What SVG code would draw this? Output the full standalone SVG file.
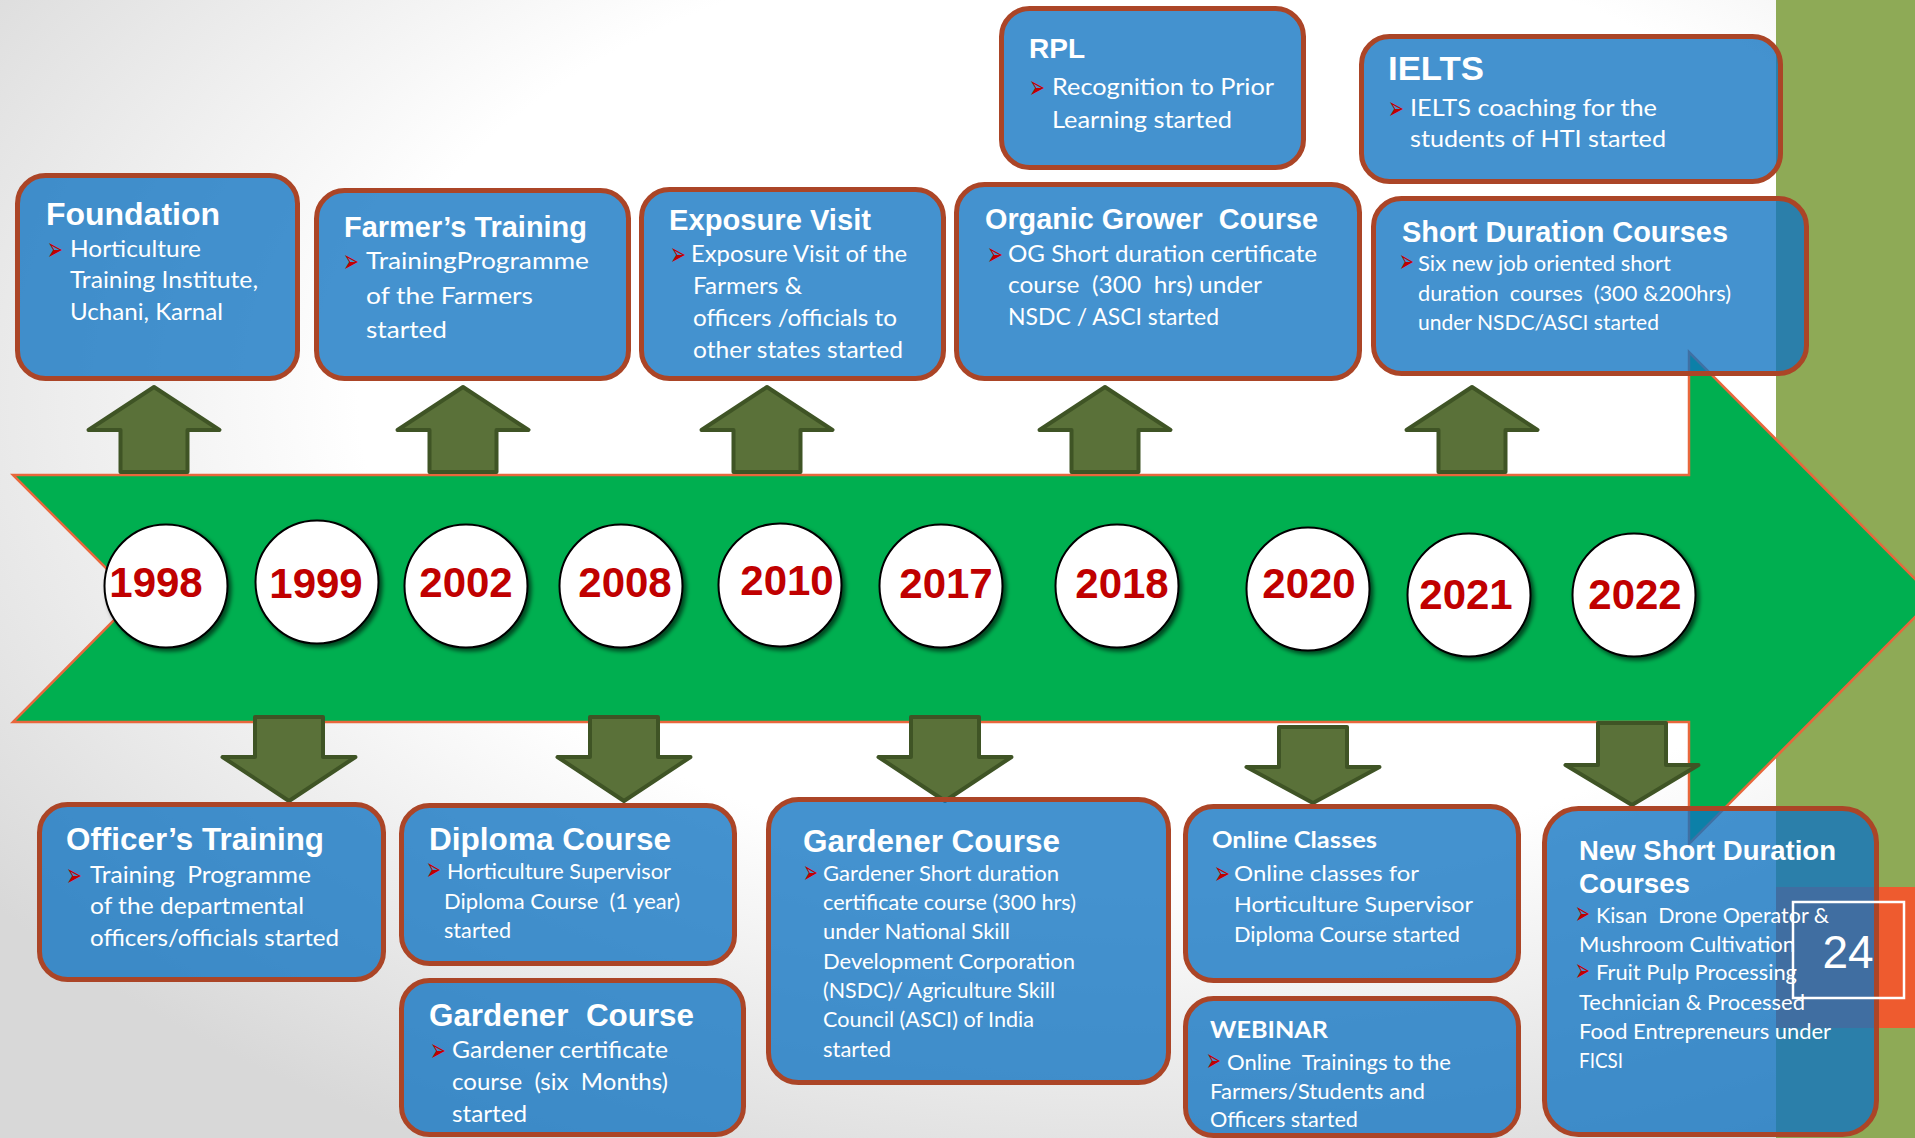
<svg xmlns="http://www.w3.org/2000/svg" width="1915" height="1138" viewBox="0 0 1915 1138">
<defs>
<radialGradient id="bg" cx="0.6" cy="0.35" r="0.75">
<stop offset="0.55" stop-color="#ffffff"/>
<stop offset="1" stop-color="#d8d8d8"/>
</radialGradient>
<filter id="sh" x="-20%" y="-20%" width="150%" height="150%">
<feDropShadow dx="3" dy="3" stdDeviation="2" flood-color="#000" flood-opacity="0.6"/>
</filter>
<path id="up" d="M0,0 L65.5,43 L33.5,43 L33.5,85 L-33.5,85 L-33.5,43 L-65.5,43 Z"/>
<path id="dn" d="M0,0 L-66.5,-44 L-34,-44 L-34,-84 L34,-84 L34,-44 L66.5,-44 Z"/>
</defs>
<style>
.box{fill:#1073C2;fill-opacity:0.78;stroke:#AB4527;stroke-width:5}
.ttl{font-family:"Liberation Sans",Arial,sans-serif;font-weight:bold;fill:#ffffff}
.bd{font-family:Lato,"Open Sans",sans-serif;fill:#ffffff}
.bdb{font-family:Lato,"Open Sans",sans-serif;font-weight:bold;fill:#ffffff}
.bl{font-family:"DejaVu Sans",sans-serif;fill:#C00000;font-size:32px}
.yc{fill:#ffffff;stroke:#000000;stroke-width:2;filter:url(#sh)}
.yr{font-family:"Liberation Sans",Arial,sans-serif;font-weight:bold;font-size:42px;fill:#C00000;text-anchor:middle}
.ar{fill:#5A7139;stroke:#3F5425;stroke-width:4;stroke-linejoin:round}
.pre{white-space:pre}
</style>

<g id="background">
<rect x="0" y="0" width="1915" height="1138" fill="url(#bg)"/>
<rect x="1776" y="0" width="139" height="1138" fill="#8EAA56"/>
<rect x="1776" y="887" width="139" height="141" fill="#EE5B2F"/>
</g>

<g id="connectors">
<path id="timeline-arrow" d="M13,475 L1689,475 L1689,352 L1934,598 L1689,844 L1689,722 L13,722 L136,598 Z" fill="#00AF50" stroke="#E8673C" stroke-width="2.5"/>
<use href="#up" class="ar" transform="translate(154,387)"/>
<use href="#up" class="ar" transform="translate(463,387)"/>
<use href="#up" class="ar" transform="translate(767,387)"/>
<use href="#up" class="ar" transform="translate(1105,387)"/>
<use href="#up" class="ar" transform="translate(1472,387)"/>
<use href="#dn" class="ar" transform="translate(289,801)"/>
<use href="#dn" class="ar" transform="translate(624,801)"/>
<use href="#dn" class="ar" transform="translate(945,801)"/>
<path class="ar" d="M1313,803 L1246.5,767 L1279,767 L1279,727 L1347,727 L1347,767 L1379.5,767 Z"/>
<path class="ar" d="M1632,805 L1565.5,765 L1598,765 L1598,723 L1666,723 L1666,765 L1698.5,765 Z"/>
</g>

<g id="years">
<g id="y1998"><circle class="yc" cx="166" cy="586" r="61.5"/><text class="yr" x="156" y="597">1998</text></g>
<g id="y1999"><circle class="yc" cx="317" cy="582" r="61.5"/><text class="yr" x="316" y="598">1999</text></g>
<g id="y2002"><circle class="yc" cx="466" cy="586" r="61.5"/><text class="yr" x="466" y="597">2002</text></g>
<g id="y2008"><circle class="yc" cx="621" cy="586" r="61.5"/><text class="yr" x="625" y="597">2008</text></g>
<g id="y2010"><circle class="yc" cx="780" cy="585" r="61.5"/><text class="yr" x="787" y="595">2010</text></g>
<g id="y2017"><circle class="yc" cx="941" cy="586" r="61.5"/><text class="yr" x="946" y="598">2017</text></g>
<g id="y2018"><circle class="yc" cx="1117" cy="586" r="61.5"/><text class="yr" x="1122" y="598">2018</text></g>
<g id="y2020"><circle class="yc" cx="1308" cy="589" r="61.5"/><text class="yr" x="1309" y="598">2020</text></g>
<g id="y2021"><circle class="yc" cx="1469" cy="595" r="61.5"/><text class="yr" x="1466" y="609">2021</text></g>
<g id="y2022"><circle class="yc" cx="1634" cy="595" r="61.5"/><text class="yr" x="1635" y="609">2022</text></g>
</g>

<g id="foundation">
<rect class="box" x="17.5" y="175.5" width="280" height="203" rx="28"/>
<text class="ttl" x="46" y="225" font-size="32" textLength="174" lengthAdjust="spacingAndGlyphs">Foundation</text>
<g class="bd" font-size="23">
<text x="47" y="257"><tspan class="bl" dy="3" textLength="16" lengthAdjust="spacingAndGlyphs">➢</tspan><tspan x="70" dy="-3" textLength="131" lengthAdjust="spacingAndGlyphs">Horticulture</tspan></text>
<text x="70" y="288" textLength="188" lengthAdjust="spacingAndGlyphs">Training Institute,</text>
<text x="70" y="320" textLength="153" lengthAdjust="spacingAndGlyphs">Uchani, Karnal</text>
</g>
</g>

<g id="farmers-training">
<rect class="box" x="316.5" y="190.5" width="312" height="188" rx="28"/>
<text class="ttl" x="344" y="237" font-size="29" textLength="243" lengthAdjust="spacingAndGlyphs">Farmer’s Training</text>
<g class="bd" font-size="24">
<text x="343" y="269"><tspan class="bl" dy="3" textLength="16" lengthAdjust="spacingAndGlyphs">➢</tspan><tspan x="366" dy="-3" textLength="223" lengthAdjust="spacingAndGlyphs">TrainingProgramme</tspan></text>
<text x="366" y="304" textLength="167" lengthAdjust="spacingAndGlyphs">of the Farmers</text>
<text x="366" y="338" textLength="81" lengthAdjust="spacingAndGlyphs">started</text>
</g>
</g>

<g id="exposure-visit">
<rect class="box" x="641.5" y="189.5" width="302" height="189" rx="28"/>
<text class="ttl" x="669" y="230" font-size="29" textLength="202" lengthAdjust="spacingAndGlyphs">Exposure Visit</text>
<g class="bd" font-size="23">
<text x="670" y="262"><tspan class="bl" dy="3" textLength="16" lengthAdjust="spacingAndGlyphs">➢</tspan><tspan x="691" dy="-3" textLength="216" lengthAdjust="spacingAndGlyphs">Exposure Visit of the</tspan></text>
<text x="693" y="294" textLength="109" lengthAdjust="spacingAndGlyphs">Farmers &amp;</text>
<text x="693" y="326" textLength="204" lengthAdjust="spacingAndGlyphs">officers /officials to</text>
<text x="693" y="358" textLength="210" lengthAdjust="spacingAndGlyphs">other states started</text>
</g>
</g>

<g id="rpl">
<rect class="box" x="1001.5" y="8.5" width="302" height="159" rx="28"/>
<text class="ttl" x="1029" y="58" font-size="28" textLength="56" lengthAdjust="spacingAndGlyphs">RPL</text>
<g class="bd" font-size="23.5">
<text x="1029" y="95"><tspan class="bl" dy="3" textLength="16" lengthAdjust="spacingAndGlyphs">➢</tspan><tspan x="1052" dy="-3" textLength="222" lengthAdjust="spacingAndGlyphs">Recognition to Prior</tspan></text>
<text x="1052" y="128" textLength="180" lengthAdjust="spacingAndGlyphs">Learning started</text>
</g>
</g>

<g id="ielts">
<rect class="box" x="1361.5" y="36.5" width="419" height="145" rx="28"/>
<text class="ttl" x="1388" y="80" font-size="34" textLength="96" lengthAdjust="spacingAndGlyphs">IELTS</text>
<g class="bd" font-size="23">
<text x="1388" y="116"><tspan class="bl" dy="3" textLength="16" lengthAdjust="spacingAndGlyphs">➢</tspan><tspan x="1410" dy="-3" textLength="247" lengthAdjust="spacingAndGlyphs">IELTS coaching for the</tspan></text>
<text x="1410" y="147" textLength="256" lengthAdjust="spacingAndGlyphs">students of HTI started</text>
</g>
</g>

<g id="organic-grower">
<rect class="box" x="956.5" y="184.5" width="403" height="194" rx="28"/>
<text class="ttl pre" xml:space="preserve" x="985" y="229" font-size="29" textLength="333" lengthAdjust="spacingAndGlyphs">Organic Grower  Course</text>
<g class="bd" font-size="22.5">
<text x="987" y="262"><tspan class="bl" dy="3" textLength="16" lengthAdjust="spacingAndGlyphs">➢</tspan><tspan x="1008" dy="-3" textLength="309" lengthAdjust="spacingAndGlyphs">OG Short duration certificate</tspan></text>
<text class="pre" xml:space="preserve" x="1008" y="293" textLength="254" lengthAdjust="spacingAndGlyphs">course  (300  hrs) under</text>
<text x="1008" y="325" textLength="211" lengthAdjust="spacingAndGlyphs">NSDC / ASCI started</text>
</g>
</g>

<g id="short-duration">
<rect class="box" x="1373.5" y="198.5" width="433" height="175" rx="28"/>
<text class="ttl" x="1402" y="242" font-size="29" textLength="326" lengthAdjust="spacingAndGlyphs">Short Duration Courses</text>
<g class="bd" font-size="20.5">
<text x="1399" y="271"><tspan class="bl" font-size="25" dy="1" textLength="15" lengthAdjust="spacingAndGlyphs">➢</tspan><tspan x="1418" dy="-1" textLength="253" lengthAdjust="spacingAndGlyphs">Six new job oriented short</tspan></text>
<text class="pre" xml:space="preserve" x="1418" y="301" textLength="313" lengthAdjust="spacingAndGlyphs">duration  courses  (300 &amp;200hrs)</text>
<text x="1418" y="330" textLength="241" lengthAdjust="spacingAndGlyphs">under NSDC/ASCI started</text>
</g>
</g>

<g id="officers-training">
<rect class="box" x="39.5" y="804.5" width="344" height="175" rx="28"/>
<text class="ttl" x="66" y="850" font-size="31" textLength="258" lengthAdjust="spacingAndGlyphs">Officer’s Training</text>
<g class="bd" font-size="23">
<text x="66" y="883"><tspan class="bl" dy="3" textLength="16" lengthAdjust="spacingAndGlyphs">➢</tspan><tspan class="pre" xml:space="preserve" x="90" dy="-3" textLength="221" lengthAdjust="spacingAndGlyphs">Training  Programme</tspan></text>
<text x="90" y="914" textLength="214" lengthAdjust="spacingAndGlyphs">of the departmental</text>
<text x="90" y="946" textLength="249" lengthAdjust="spacingAndGlyphs">officers/officials started</text>
</g>
</g>

<g id="diploma-course">
<rect class="box" x="401.5" y="805.5" width="333" height="158" rx="28"/>
<text class="ttl" x="429" y="850" font-size="31.5" textLength="242" lengthAdjust="spacingAndGlyphs">Diploma Course</text>
<g class="bd" font-size="21">
<text x="426" y="879"><tspan class="bl" font-size="24" dy="1" textLength="15" lengthAdjust="spacingAndGlyphs">➢</tspan><tspan x="447" dy="-1" textLength="224" lengthAdjust="spacingAndGlyphs">Horticulture Supervisor</tspan></text>
<text class="pre" xml:space="preserve" x="444" y="909" textLength="236" lengthAdjust="spacingAndGlyphs">Diploma Course  (1 year)</text>
<text x="444" y="938" textLength="67" lengthAdjust="spacingAndGlyphs">started</text>
</g>
</g>

<g id="gardener-certificate">
<rect class="box" x="401.5" y="980.5" width="342" height="154" rx="28"/>
<text class="ttl pre" xml:space="preserve" x="429" y="1026" font-size="31.5" textLength="265" lengthAdjust="spacingAndGlyphs">Gardener  Course</text>
<g class="bd" font-size="23">
<text x="430" y="1058"><tspan class="bl" dy="3" textLength="16" lengthAdjust="spacingAndGlyphs">➢</tspan><tspan x="452" dy="-3" textLength="216" lengthAdjust="spacingAndGlyphs">Gardener certificate</tspan></text>
<text class="pre" xml:space="preserve" x="452" y="1090" textLength="216" lengthAdjust="spacingAndGlyphs">course  (six  Months)</text>
<text x="452" y="1122" textLength="75" lengthAdjust="spacingAndGlyphs">started</text>
</g>
</g>

<g id="gardener-short">
<rect class="box" x="768.5" y="799.5" width="400" height="283" rx="30"/>
<text class="ttl" x="803" y="852" font-size="31.5" textLength="257" lengthAdjust="spacingAndGlyphs">Gardener Course</text>
<g class="bd" font-size="21">
<text x="803" y="881"><tspan class="bl" font-size="28" dy="2" textLength="15" lengthAdjust="spacingAndGlyphs">➢</tspan><tspan x="823" dy="-2" textLength="236" lengthAdjust="spacingAndGlyphs">Gardener Short duration</tspan></text>
<text x="823" y="910" textLength="253" lengthAdjust="spacingAndGlyphs">certificate course (300 hrs)</text>
<text x="823" y="939" textLength="187" lengthAdjust="spacingAndGlyphs">under National Skill</text>
<text x="823" y="969" textLength="252" lengthAdjust="spacingAndGlyphs">Development Corporation</text>
<text x="823" y="998" textLength="232" lengthAdjust="spacingAndGlyphs">(NSDC)/ Agriculture Skill</text>
<text x="823" y="1027" textLength="211" lengthAdjust="spacingAndGlyphs">Council (ASCI) of India</text>
<text x="823" y="1057" textLength="68" lengthAdjust="spacingAndGlyphs">started</text>
</g>
</g>

<g id="online-classes">
<rect class="box" x="1185.5" y="806.5" width="333" height="174" rx="28"/>
<text class="bdb" x="1212" y="848" font-size="23" textLength="165" lengthAdjust="spacingAndGlyphs">Online Classes</text>
<g class="bd" font-size="22">
<text x="1214" y="881"><tspan class="bl" dy="3" textLength="16" lengthAdjust="spacingAndGlyphs">➢</tspan><tspan x="1234" dy="-3" textLength="185" lengthAdjust="spacingAndGlyphs">Online classes for</tspan></text>
<text x="1234" y="912" textLength="239" lengthAdjust="spacingAndGlyphs">Horticulture Supervisor</text>
<text x="1234" y="942" textLength="226" lengthAdjust="spacingAndGlyphs">Diploma Course started</text>
</g>
</g>

<g id="webinar">
<rect class="box" x="1185.5" y="998.5" width="333" height="137" rx="28"/>
<text class="bdb" x="1210" y="1038" font-size="23" textLength="118" lengthAdjust="spacingAndGlyphs">WEBINAR</text>
<g class="bd" font-size="21">
<text x="1206" y="1070"><tspan class="bl" font-size="24" dy="1" textLength="15" lengthAdjust="spacingAndGlyphs">➢</tspan><tspan class="pre" xml:space="preserve" x="1227" dy="-1" textLength="224" lengthAdjust="spacingAndGlyphs">Online  Trainings to the</tspan></text>
<text x="1210" y="1099" textLength="215" lengthAdjust="spacingAndGlyphs">Farmers/Students and</text>
<text x="1210" y="1127" textLength="148" lengthAdjust="spacingAndGlyphs">Officers started</text>
</g>
</g>

<g id="new-short-duration">
<rect class="box" x="1544.5" y="808.5" width="332" height="326" rx="34"/>
<text class="ttl" x="1579" y="860" font-size="27.5" textLength="257" lengthAdjust="spacingAndGlyphs">New Short Duration</text>
<text class="ttl" x="1579" y="893" font-size="27.5" textLength="111" lengthAdjust="spacingAndGlyphs">Courses</text>
<g class="bd" font-size="21">
<text x="1575" y="923"><tspan class="bl" font-size="24" dy="1" textLength="15" lengthAdjust="spacingAndGlyphs">➢</tspan><tspan class="pre" xml:space="preserve" x="1596" dy="-1" textLength="233" lengthAdjust="spacingAndGlyphs">Kisan  Drone Operator &amp;</tspan></text>
<text x="1579" y="952" textLength="216" lengthAdjust="spacingAndGlyphs">Mushroom Cultivation</text>
<text x="1575" y="980"><tspan class="bl" font-size="24" dy="1" textLength="15" lengthAdjust="spacingAndGlyphs">➢</tspan><tspan x="1596" dy="-1" textLength="201" lengthAdjust="spacingAndGlyphs">Fruit Pulp Processing</tspan></text>
<text x="1579" y="1010" textLength="226" lengthAdjust="spacingAndGlyphs">Technician &amp; Processed</text>
<text x="1579" y="1039" textLength="252" lengthAdjust="spacingAndGlyphs">Food Entrepreneurs under</text>
<text x="1579" y="1068" textLength="44" lengthAdjust="spacingAndGlyphs">FICSI</text>
</g>
</g>

<g id="slide-number">
<rect x="1793" y="902" width="111" height="96" fill="none" stroke="#ffffff" stroke-width="2.5"/>
<text x="1848" y="968" font-family="'Liberation Sans',Arial,sans-serif" font-size="46" fill="#ffffff" text-anchor="middle">24</text>
</g>
</svg>
